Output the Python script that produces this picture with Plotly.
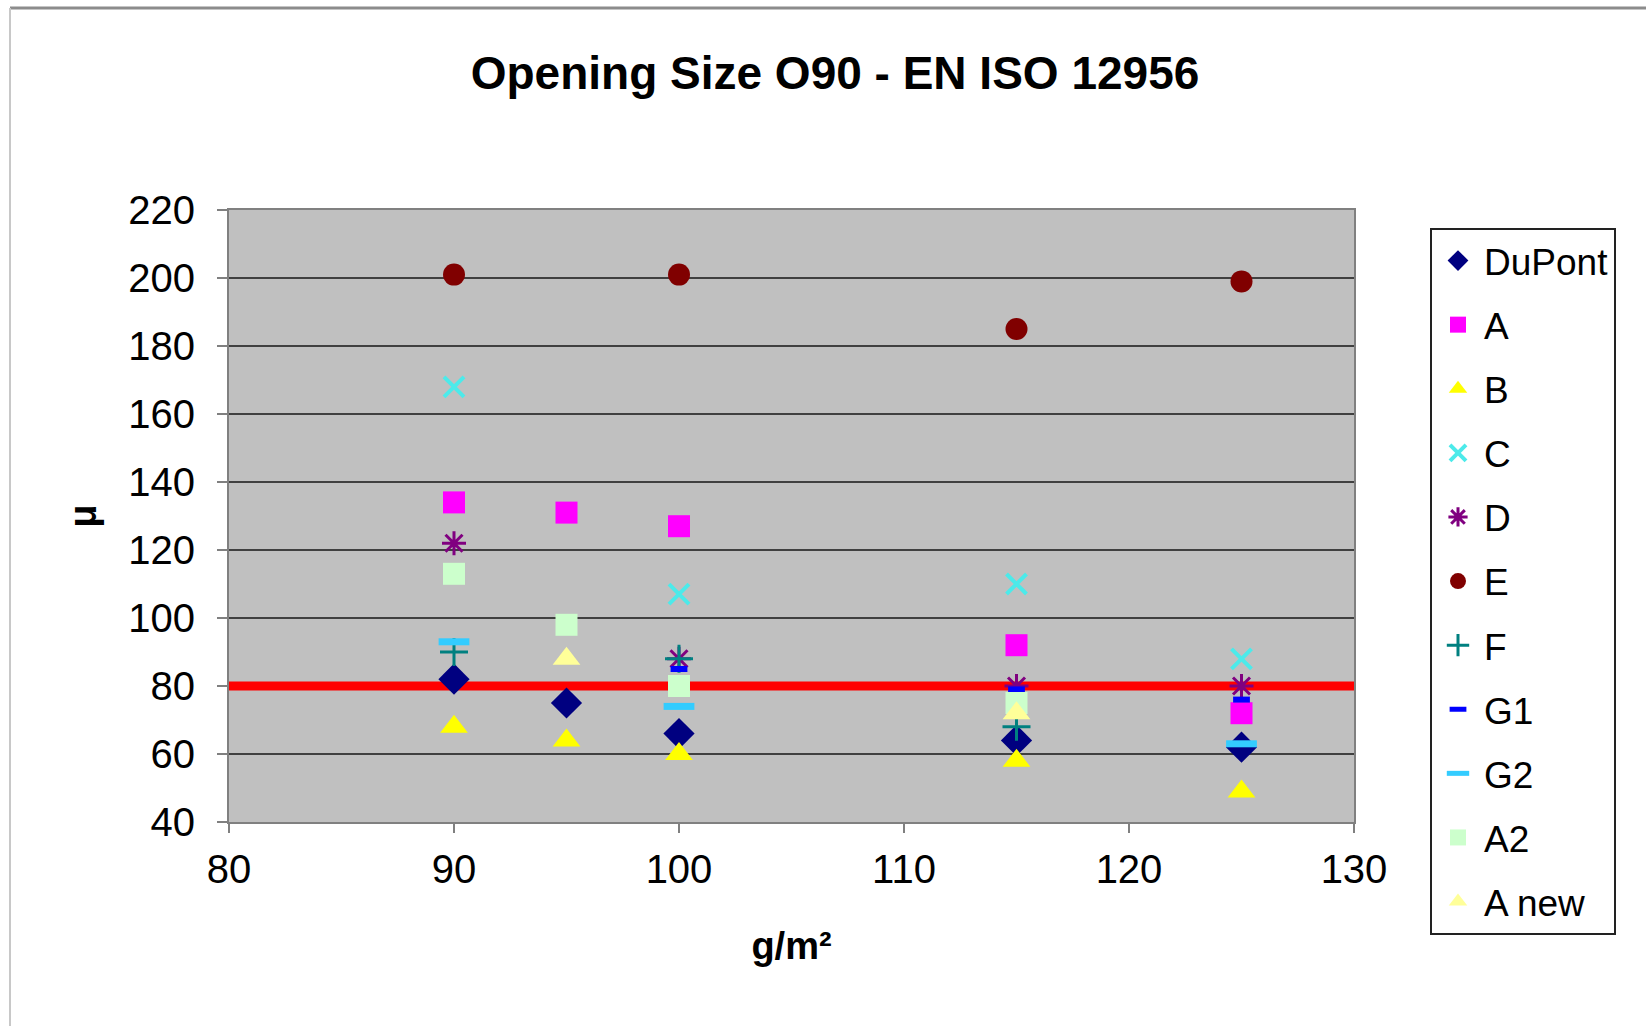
import plotly.graph_objects as go

# ---- data ----
dupont_x = [90, 95, 100, 115, 125]
dupont_y = [82, 75, 66, 64, 62]
a_x = [90, 95, 100, 115, 125]
a_y = [134, 131, 127, 92, 72]
b_x = [90, 95, 100, 115, 125]
b_y = [68, 64, 60, 58, 49]
c_x = [90, 100, 115, 125]
c_y = [168, 107, 110, 88]
d_x = [90, 100, 115, 125]
d_y = [122, 88, 80, 80]
e_x = [90, 100, 115, 125]
e_y = [201, 201, 185, 199]
f_x = [90, 100, 115]
f_y = [90, 88, 68]
g1_x = [100, 115, 125]
g1_y = [85, 79, 76]
g2_x = [90, 100, 125]
g2_y = [93, 74, 63]
a2_x = [90, 95, 100, 115]
a2_y = [113, 98, 80, 75]
anew_x = [95, 115]
anew_y = [88, 72]
limit_x = [80, 130]
limit_y = [80, 80]

x_ticks = [80, 90, 100, 110, 120, 130]
y_ticks = [40, 60, 80, 100, 120, 140, 160, 180, 200, 220]

FONT = "Liberation Sans, Arial, sans-serif"

fig = go.Figure()

# red limit line
fig.add_trace(go.Scatter(x=limit_x, y=limit_y, mode="lines",
                         line=dict(color="#FF0000", width=9),
                         showlegend=False, hoverinfo="skip"))

series = [
    ("DuPont", dupont_x, dupont_y, dict(symbol="diamond", size=24, color="#000080")),
    ("A", a_x, a_y, dict(symbol="square", size=22, color="#FF00FF")),
    ("B", b_x, b_y, dict(symbol="triangle-up", size=24, color="#FFFF00")),
    ("C", c_x, c_y, dict(symbol="x-thin", size=20, color="#4CEAEA",
                         line=dict(color="#4CEAEA", width=4))),
    ("D", d_x, d_y, dict(symbol="asterisk", size=20, color="#800080",
                         line=dict(color="#800080", width=3))),
    ("E", e_x, e_y, dict(symbol="circle", size=22, color="#800000")),
    ("F", f_x, f_y, dict(symbol="cross-thin", size=20, color="#008080",
                         line=dict(color="#008080", width=3))),
    ("G1", g1_x, g1_y, dict(symbol="line-ew", size=12, color="#0000FF",
                            line=dict(color="#0000FF", width=6))),
    ("G2", g2_x, g2_y, dict(symbol="line-ew", size=22, color="#33CCFF",
                            line=dict(color="#33CCFF", width=7))),
    ("A2", a2_x, a2_y, dict(symbol="square", size=22, color="#CCFFCC")),
    ("A new", anew_x, anew_y, dict(symbol="triangle-up", size=24, color="#FFFF99")),
]

for name, xs, ys, mk in series:
    fig.add_trace(go.Scatter(x=xs, y=ys, mode="markers", name=name,
                             legendgroup=name, marker=mk))

fig.update_layout(
    width=1646, height=1026,
    margin=dict(l=229, r=292, t=210, b=204),
    paper_bgcolor="white",
    plot_bgcolor="#C0C0C0",
    font=dict(family=FONT, color="black", size=36),
    title=dict(text="<b>Opening Size O90 - EN ISO 12956</b>",
               x=(835) / 1646, xanchor="center", y=1 - 73 / 1026, yanchor="middle",
               font=dict(family=FONT, size=46, color="black")),
    xaxis=dict(range=[80, 130], tickvals=x_ticks, showgrid=False,
               ticks="outside", ticklen=9, tickcolor="#808080", tickwidth=2,
               ticklabelstandoff=2,
               showline=True, linecolor="#808080", linewidth=2, mirror=True,
               zeroline=False, tickfont=dict(size=40, family=FONT),
               title=dict(text="<b>g/m²</b>", font=dict(size=38, family=FONT), standoff=42)),
    yaxis=dict(range=[40, 220], tickvals=y_ticks, showgrid=True,
               gridcolor="#404040", gridwidth=2,
               ticks="outside", ticklen=10, tickcolor="#808080", tickwidth=2,
               ticklabelstandoff=14,
               showline=True, linecolor="#808080", linewidth=2, mirror=True,
               zeroline=False, tickfont=dict(size=40, family=FONT),
               title=dict(text="<b>μ</b>", font=dict(size=38, family=FONT), standoff=20)),
    legend=dict(x=(1430 - 229) / 1125, xanchor="left",
                y=(822 - 228) / 612, yanchor="top",
                bgcolor="white", bordercolor="#222222", borderwidth=2,
                font=dict(size=37, family=FONT, color="black"),
                tracegroupgap=13, itemwidth=42, maxheight=1000),
    shapes=[
        dict(type="line", xref="paper", yref="paper",
             x0=(10 - 229) / 1125, x1=(1646 - 229) / 1125,
             y0=(822 - 8) / 612, y1=(822 - 8) / 612,
             line=dict(color="#8C8C8C", width=3)),
        dict(type="line", xref="paper", yref="paper",
             x0=(10 - 229) / 1125, x1=(10 - 229) / 1125,
             y0=(822 - 8) / 612, y1=(822 - 1030) / 612,
             line=dict(color="#C8C8C8", width=2)),
    ],
)

fig.write_html("out.html")
